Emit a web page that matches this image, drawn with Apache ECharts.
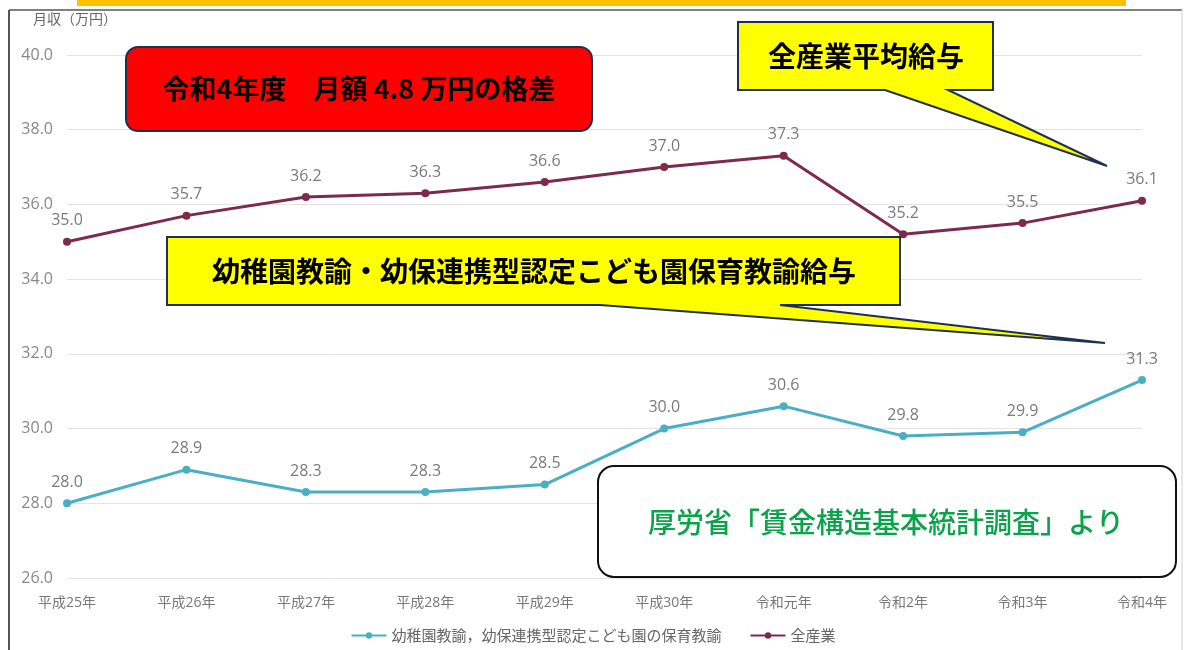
<!DOCTYPE html>
<html>
<head>
<meta charset="utf-8">
<script src="https://cdn.jsdelivr.net/npm/echarts@6/dist/echarts.min.js"></script>
<style>
  html, body { margin: 0; padding: 0; background: #ffffff; }
  #chart { width: 1186px; height: 650px; }
</style>
</head>
<body>
<div id="chart"></div>
<script>
// Fiscal years (Japanese era notation)
const years = ['平成25年', '平成26年', '平成27年', '平成28年', '平成29年', '平成30年', '令和元年', '令和2年', '令和3年', '令和4年'];
// Monthly pay, 10,000 yen
const teacherPay = [28.0, 28.9, 28.3, 28.3, 28.5, 30.0, 30.6, 29.8, 29.9, 31.3];
const allIndustryPay = [35.0, 35.7, 36.2, 36.3, 36.6, 37.0, 37.3, 35.2, 35.5, 36.1];
const seriesNames = ['幼稚園教諭，幼保連携型認定こども園の保育教諭', '全産業'];
const yTicks = { min: 26, max: 40, step: 2 };

const FONT = '"Noto Sans CJK JP", "Noto Sans", sans-serif';
const NUMFONT = '"Open Sans", "Noto Sans CJK JP", sans-serif';
const navy = '#1f3050';

const chart = echarts.init(document.getElementById('chart'), null, { renderer: 'canvas' });

const labelStyle = {
  show: true,
  position: 'top',
  distance: 9,
  color: '#7a7a7a',
  fontSize: 16,
  fontFamily: NUMFONT,
  formatter: p => p.value.toFixed(1)
};

chart.setOption({
  backgroundColor: '#ffffff',
  animation: false,
  grid: { left: 67, right: 44, top: 55, bottom: 72 },
  legend: {
    top: 623,
    left: 'center',
    itemWidth: 35,
    itemHeight: 8,
    itemGap: 28,
    textStyle: { color: '#666', fontSize: 15, fontFamily: FONT },
    data: seriesNames
  },
  xAxis: {
    type: 'category',
    data: years,
    boundaryGap: false,
    axisLine: { show: false },
    axisTick: { show: false },
    axisLabel: { color: '#777', fontSize: 14, fontFamily: NUMFONT, margin: 18 },
    splitLine: { show: false }
  },
  yAxis: {
    type: 'value',
    min: yTicks.min,
    max: yTicks.max,
    interval: yTicks.step,
    axisLine: { show: false },
    axisTick: { show: false },
    axisLabel: { color: '#888', fontSize: 16, fontFamily: NUMFONT, margin: 14, formatter: v => v.toFixed(1) },
    splitLine: { lineStyle: { color: '#e3e3e3', width: 1 } }
  },
  series: [
    {
      name: seriesNames[0],
      type: 'line',
      data: teacherPay,
      symbol: 'circle',
      symbolSize: 8,
      lineStyle: { color: '#4aafc4', width: 3 },
      itemStyle: { color: '#4aafc4' },
      label: labelStyle
    },
    {
      name: seriesNames[1],
      type: 'line',
      data: allIndustryPay,
      symbol: 'circle',
      symbolSize: 8,
      lineStyle: { color: '#7d2a4c', width: 3 },
      itemStyle: { color: '#7d2a4c' },
      label: labelStyle
    }
  ],
  graphic: [
    // page frame and top accent bar
    { type: 'rect', shape: { x: 77, y: 0, width: 1049, height: 6 }, style: { fill: '#ffc000' }, z: 1 },
    { type: 'line', shape: { x1: 9, y1: 10, x2: 1182, y2: 10 }, style: { stroke: '#808080', lineWidth: 2 }, z: 1 },
    { type: 'line', shape: { x1: 9, y1: 10, x2: 9, y2: 650 }, style: { stroke: '#555555', lineWidth: 2 }, z: 1 },
    { type: 'line', shape: { x1: 1182, y1: 10, x2: 1182, y2: 650 }, style: { stroke: '#d0d0d0', lineWidth: 1 }, z: 1 },
    // y-axis unit
    { type: 'text', left: 33, top: 12, style: { text: '月収（万円）', fill: '#666', font: '14px ' + FONT }, z: 5 },
    // headline box
    {
      type: 'rect', shape: { x: 126, y: 47, width: 466, height: 84, r: 12 },
      style: { fill: '#ff0000', stroke: navy, lineWidth: 2 }, z: 10
    },
    {
      type: 'text', x: 359, y: 89,
      style: { text: '令和4年度　月額 4.8 万円の格差', fill: '#000', font: 'bold 27px ' + FONT, textAlign: 'center', textVerticalAlign: 'middle' },
      z: 11
    },
    // callout: all-industry average
    {
      type: 'polygon',
      shape: { points: [[738, 22], [993, 22], [993, 90], [948, 90], [1107, 166], [885, 90], [738, 90]] },
      style: { fill: '#ffff00', stroke: navy, lineWidth: 2, lineJoin: 'miter' }, z: 10
    },
    {
      type: 'text', x: 866, y: 56,
      style: { text: '全産業平均給与', fill: '#000', font: 'bold 28px ' + FONT, textAlign: 'center', textVerticalAlign: 'middle' },
      z: 11
    },
    // callout: kindergarten teachers
    {
      type: 'polygon',
      shape: { points: [[167, 237], [900, 237], [900, 305], [780, 305], [1105, 343], [600, 305], [167, 305]] },
      style: { fill: '#ffff00', stroke: navy, lineWidth: 2, lineJoin: 'miter' }, z: 10
    },
    {
      type: 'text', x: 534, y: 271,
      style: { text: '幼稚園教諭・幼保連携型認定こども園保育教諭給与', fill: '#000', font: 'bold 28px ' + FONT, textAlign: 'center', textVerticalAlign: 'middle' },
      z: 11
    },
    // source box
    {
      type: 'rect', shape: { x: 598, y: 466, width: 578, height: 111, r: 16 },
      style: { fill: '#ffffff', stroke: '#111', lineWidth: 2 }, z: 10
    },
    {
      type: 'text', x: 886, y: 522,
      style: { text: '厚労省「賃金構造基本統計調査」より', fill: '#0aa34a', font: '500 28px ' + FONT, textAlign: 'center', textVerticalAlign: 'middle' },
      z: 11
    }
  ]
});
</script>
</body>
</html>
